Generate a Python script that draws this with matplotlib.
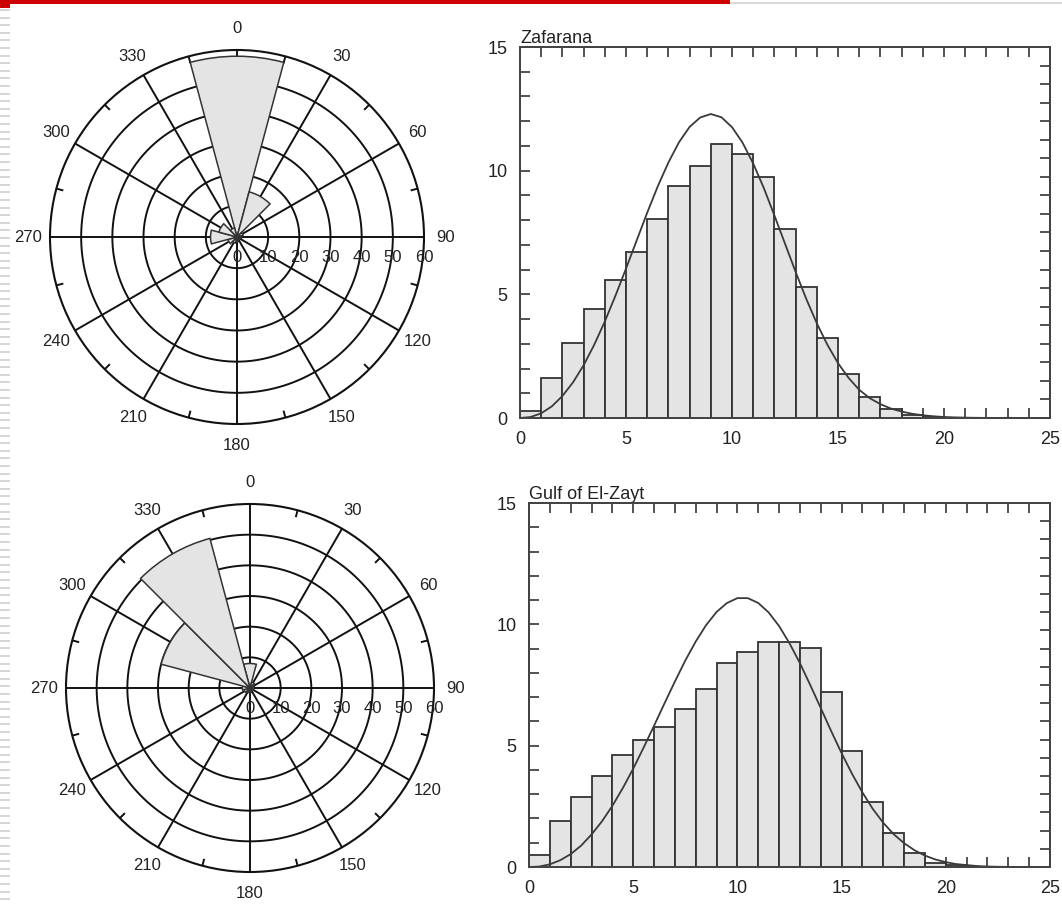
import matplotlib
matplotlib.use('Agg')
import matplotlib.pyplot as plt
import numpy as np
from matplotlib.patches import Rectangle
from matplotlib.transforms import offset_copy

plt.rcParams['font.family'] = ['Liberation Sans', 'DejaVu Sans']

W_PX, H_PX = 1062, 905

# wind rose data (percent per 30 deg sector)
directions = [0, 30, 60, 90, 120, 150, 180, 210, 240, 270, 300, 330]
rose_zafarana = [58, 15, 2, 1.5, 1, 1, 1.5, 2, 3, 8.5, 6, 3]
rose_zayt = [8, 2, 1.5, 1, 1, 1, 1.5, 1.5, 2, 2.5, 30, 50.5]
ring_levels = [10, 20, 30, 40, 50, 60]
radial_labels = [0, 10, 20, 30, 40, 50, 60]

# wind speed histograms (percent per 1 m/s bin)
hist_zafarana = [0.30, 1.61, 3.04, 4.41, 5.56, 6.73, 8.04, 9.36, 10.18, 11.06,
                 10.68, 9.74, 7.65, 5.29, 3.25, 1.78, 0.84, 0.36, 0.13, 0.04]
hist_zayt = [0.51, 1.88, 2.88, 3.76, 4.63, 5.24, 5.75, 6.50, 7.34, 8.39, 8.86,
             9.26, 9.26, 9.04, 7.23, 4.80, 2.66, 1.40, 0.56, 0.16, 0.07, 0.02]

# fitted curves, read at 0.5 m/s steps from 0 to 25
curve_x = np.arange(0, 25.5, 0.5)
curve_zafarana = [0, 0.04, 0.19, 0.47, 0.89, 1.44, 2.13, 2.96, 3.90, 4.94,
                  6.04, 7.17, 8.30, 9.37, 10.33, 11.15, 11.77, 12.15, 12.29, 12.16,
                  11.76, 11.13, 10.29, 9.30, 8.19, 7.05, 5.91, 4.82, 3.83, 2.96,
                  2.22, 1.62, 1.14, 0.80, 0.56, 0.38, 0.26, 0.17, 0.11, 0.07,
                  0.04, 0.025, 0.015, 0.008, 0.004, 0.002, 0.001, 0, 0, 0, 0]
curve_zayt = [0, 0.02, 0.11, 0.28, 0.53, 0.88, 1.34, 1.88, 2.52, 3.25,
              4.05, 4.92, 5.82, 6.74, 7.64, 8.51, 9.29, 9.97, 10.51, 10.88,
              11.08, 11.08, 10.88, 10.49, 9.93, 9.22, 8.40, 7.49, 6.55, 5.60,
              4.69, 3.84, 3.07, 2.39, 1.82, 1.35, 0.98, 0.69, 0.47, 0.31,
              0.20, 0.12, 0.08, 0.04, 0.02, 0.01, 0.005, 0, 0, 0, 0]

FILL = '#e4e4e4'
EDGE = '#333333'
TXT = '#222222'

fig = plt.figure(figsize=(W_PX / 100, H_PX / 100), dpi=100)


def px_axes(x0, y0, x1, y1, **kw):
    # pixel box (top-left origin) -> figure axes
    return fig.add_axes([x0 / W_PX, 1 - y1 / H_PX, (x1 - x0) / W_PX, (y1 - y0) / H_PX], **kw)


def px_rect(x, y, w, h, color):
    fig.add_artist(Rectangle((x / W_PX, 1 - (y + h) / H_PX), w / W_PX, h / H_PX,
                             transform=fig.transFigure, color=color, lw=0))


def draw_rose(cx, cy, rad, values):
    ax = px_axes(cx - rad, cy - rad, cx + rad, cy + rad, projection='polar')
    ax.set_theta_zero_location('N')
    ax.set_theta_direction(-1)
    ax.set_ylim(0, 60)
    ax.set_xticks([])
    ax.set_yticks([])
    ax.grid(False)
    ax.spines['polar'].set_linewidth(1.5)
    ax.spines['polar'].set_color('#111111')

    th = np.linspace(0, 2 * np.pi, 400)
    for r in ring_levels[:-1]:
        ax.plot(th, np.full_like(th, r), color='#111111', lw=1.4, zorder=1)
    for a in range(0, 360, 30):
        ax.plot([np.radians(a)] * 2, [0, 60], color='#111111', lw=1.4, zorder=1)
    for a in range(15, 360, 30):
        ax.plot([np.radians(a)] * 2, [58, 60], color='#111111', lw=1.4, zorder=1)

    ax.bar(np.radians(directions), values, width=np.radians(30), bottom=0,
           color=FILL, edgecolor='#333333', lw=1.1, zorder=3)

    for a in range(0, 360, 30):
        ax.text(np.radians(a), 67, str(a), ha='center', va='center',
                fontsize=12, color=TXT, clip_on=False)

    tr = offset_copy(ax.transData, fig=fig, x=0, y=-20, units='dots')
    for r in radial_labels:
        ax.text(np.radians(90), r, str(r), transform=tr, ha='center', va='center',
                fontsize=12, color=TXT, clip_on=False, zorder=5)


def draw_hist(x0, y0, x1, y1, title, heights, curve):
    ax = px_axes(x0, y0, x1, y1)
    ax.bar(np.arange(len(heights)), heights, width=1, align='edge',
           color=FILL, edgecolor=EDGE, lw=1.3, zorder=2)
    ax.plot(curve_x, curve, color='#3a3a3a', lw=1.3, zorder=3)
    ax.set_xlim(0, 25)
    ax.set_ylim(0, 15)
    ax.set_xticks(range(0, 26, 5))
    ax.set_xticks(range(26), minor=True)
    ax.set_yticks([0, 5, 10, 15])
    ax.set_yticks(range(16), minor=True)
    ax.set_axisbelow(True)
    ax.tick_params(which='both', direction='in', length=7, width=1.3, top=True,
                   color='#444444', labelsize=13, labelcolor=TXT, pad=9)
    for s in ax.spines.values():
        s.set_linewidth(1.4)
        s.set_color('#444444')

    ax2 = ax.twinx()
    ax2.set_ylim(0, 20)
    ax2.set_yticks(range(21))
    ax2.tick_params(direction='in', length=7, width=1.3, color='#444444', labelright=False)
    for s in ax2.spines.values():
        s.set_linewidth(1.4)
        s.set_color('#444444')

    ax.set_title(title, loc='left', fontsize=13, color=TXT, pad=3)


draw_rose(237, 237, 187, rose_zafarana)
draw_rose(250, 688, 184, rose_zayt)
draw_hist(520, 47, 1050, 418, 'Zafarana', hist_zafarana, curve_zafarana)
draw_hist(529, 503, 1050, 867, 'Gulf of El-Zayt', hist_zayt, curve_zayt)

# slide decoration: red bar on top, gray line, dashed left edge
px_rect(0, 0, 730, 4, '#cc0000')
px_rect(0, 0, 10, 8, '#cc0000')
px_rect(730, 2, W_PX - 730, 2, '#d9d9d9')
for y in np.arange(9, H_PX, 7.6):
    px_rect(0, y, 10, 2, '#d6d6d6')

fig.savefig('out.png', dpi=100)
